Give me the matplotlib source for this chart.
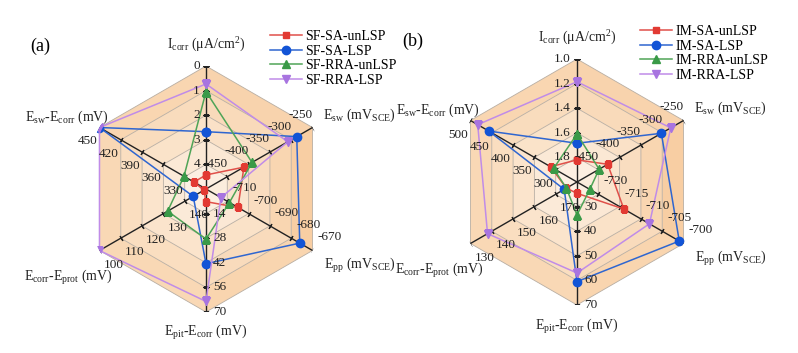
import numpy as np
import matplotlib
matplotlib.use('Agg')
import matplotlib.pyplot as plt

plt.rcParams['font.family'] = ['Liberation Serif', 'DejaVu Serif']
plt.rcParams['mathtext.fontset'] = 'custom'
plt.rcParams['mathtext.rm'] = 'Liberation Serif'
plt.rcParams['mathtext.it'] = 'Liberation Serif:italic'

# ---------------- data ----------------
axis_titles = [r'I$_{\rm corr}$ (μA/cm$^{2}$)', r'E$_{\rm sw}$ (mV$_{\rm SCE}$)',
               r'E$_{\rm pp}$ (mV$_{\rm SCE}$)', r'E$_{\rm pit}$-E$_{\rm corr}$ (mV)',
               r'E$_{\rm corr}$-E$_{\rm prot}$ (mV)', r'E$_{\rm sw}$-E$_{\rm corr}$ (mV)']

# panel (a): value at centre, and tick values from centre outward
a_center = [5, -500, -720, 0, 150, 300]
a_ticks = [[4, 3, 2, 1, 0],
           [-450, -400, -350, -300, -250],
           [-710, -700, -690, -680, -670],
           [14, 28, 42, 56, 70],
           [140, 130, 120, 110, 100],
           [330, 360, 390, 420, 450]]
a_tick_labels = [[str(v) for v in t] for t in a_ticks]
a_names = ['SF-SA-unLSP', 'SF-SA-LSP', 'SF-RRA-unLSP', 'SF-RRA-LSP']
a_sf_sa_unlsp = [4.43, -411, -705, 7.2, 149, 317]
a_sf_sa_lsp = [2.67, -287, -676, 42.5, 144, 450]
a_sf_rra_unlsp = [1.04, -392, -709, 28.5, 132, 331]
a_sf_rra_lsp = [0.73, -308, -713, 64, 100, 450]

# panel (b)
b_center = [2.0, -500, -725, 20, 180, 250]
b_ticks = [[1.8, 1.6, 1.4, 1.2, 1.0],
           [-450, -400, -350, -300, -250],
           [-720, -715, -710, -705, -700],
           [30, 40, 50, 60, 70],
           [170, 160, 150, 140, 130],
           [300, 350, 400, 450, 500]]
b_tick_labels = [['1.8', '1.6', '1.4', '1.2', '1.0']] + [[str(v) for v in t] for t in b_ticks[1:]]
b_names = ['IM-SA-unLSP', 'IM-SA-LSP', 'IM-RRA-unLSP', 'IM-RRA-LSP']
b_im_sa_unlsp = [1.82, -428, -714, 24.6, 175, 312]
b_im_sa_lsp = [1.685, -302, -701, 60.5, 174, 457]
b_im_rra_unlsp = [1.61, -448, -722, 33.4, 175, 305]
b_im_rra_lsp = [1.185, -280, -708, 57, 138, 483]

# ---------------- style ----------------
line_colors = ['#e0504a', '#2f66d0', '#4fa457', '#c08ce8']
marker_colors = ['#e23a33', '#1254d6', '#3a9a48', '#a874e0']
markers = ['s', 'o', '^', 'v']
msizes = [5, 6, 5.5, 5.5]

W, H = 798, 353
R = 123
fig = plt.figure(figsize=(W / 100, H / 100), dpi=100)

theta = np.deg2rad([0, 60, 120, 180, 240, 300])
screen_ang = [90 - d for d in [0, 60, 120, 180, 240, 300]]

lab_off = [(-6, 0, 'right', 'center'), (-12, 13, 'center', 'center'),
           (17, 13, 'center', 'center'), (7, 0, 'left', 'center'),
           (14, -14, 'center', 'center'), (-12, -14, 'center', 'center')]
title_off = [(0, 21), (47, 12), (47, -15), (0, -21), (-31, -27), (-33, 10)]

c_in = np.array([252, 242, 231]) / 255
c_out = np.array([248, 208, 166]) / 255
sector_fac = [1.0, 1.12, 0.97, 0.9, 0.9, 0.95]


def norm(vals, center, ticks):
    outer = [t[-1] for t in ticks]
    return [(v - c) / (o - c) for v, c, o in zip(vals, center, outer)]


def panel(cx, cy, center, ticks, tick_labels, series, names, leg_xy):
    ax = fig.add_axes([(cx - R) / W, (H - cy - R) / H, 2 * R / W, 2 * R / H],
                      projection='polar')
    ax.set_theta_zero_location('N')
    ax.set_theta_direction(-1)
    ax.set_ylim(0, 1)
    ax.set_axis_off()
    levels = np.linspace(0, 1, 6)
    # shaded background
    for j in range(6):
        t0, t1 = theta[j], theta[(j + 1) % 6]
        for k in range(5):
            tt = (k + 0.5) / 5
            c = c_in + (c_out - c_in) * tt
            c = 1 - (1 - c) * sector_fac[j]
            c = np.clip(c, 0, 1)
            ax.fill([t0, t1, t1, t0], [levels[k], levels[k], levels[k + 1], levels[k + 1]],
                    color=c, lw=0, zorder=0)
    # grid rings
    th_c = np.append(theta, theta[0])
    for lv in levels[1:]:
        ax.plot(th_c, [lv] * 7, color='#b8aea3', lw=0.6, zorder=1)
    # spokes, ticks, labels, titles
    for i in range(6):
        ax.plot([theta[i], theta[i]], [0, 1], color='#222222', lw=1.0, zorder=2)
        rads = [(t - center[i]) / (ticks[i][-1] - center[i]) for t in ticks[i]]
        ax.plot([theta[i]] * 5, rads, ls='none', marker=(2, 2, screen_ang[i]),
                ms=4, mew=0.9, color='#222222', zorder=2)
        dx, dy, ha, va = lab_off[i]
        for r, s in zip(rads, tick_labels[i]):
            ax.annotate(s, (theta[i], r), xytext=(dx, dy), textcoords='offset pixels',
                        ha=ha, va=va, fontsize=9.5, color='#222222', zorder=6)
        tx, ty = title_off[i]
        ax.annotate(axis_titles[i], (theta[i], 1), xytext=(tx, ty),
                    textcoords='offset pixels', ha='center', va='center',
                    fontsize=10, color='#222222', annotation_clip=False)
    # data series
    handles = []
    for s, name, lc, mc, mk, ms in zip(series, names, line_colors, marker_colors,
                                       markers, msizes):
        r = norm(s, center, ticks)
        h, = ax.plot(np.append(theta, theta[0]), r + [r[0]], color=lc, lw=1.1,
                     marker=mk, ms=ms, mfc=mc, mec=mc, zorder=3, label=name)
        handles.append(h)
    fig.legend(handles=handles, loc='upper left',
               bbox_to_anchor=(leg_xy[0] / W, 1 - leg_xy[1] / H),
               frameon=False, fontsize=10, handlelength=2.3, handletextpad=0.25,
               labelspacing=0.12, borderpad=0, borderaxespad=0)
    return ax


panel(206, 189, a_center, a_ticks, a_tick_labels,
      [a_sf_sa_unlsp, a_sf_sa_lsp, a_sf_rra_unlsp, a_sf_rra_lsp], a_names, (270, 30))
panel(577, 182, b_center, b_ticks, b_tick_labels,
      [b_im_sa_unlsp, b_im_sa_lsp, b_im_rra_unlsp, b_im_rra_lsp], b_names, (640, 25))

fig.text(40 / W, 1 - 46 / H, '(a)', fontsize=13, ha='center', va='center')
fig.text(413 / W, 1 - 41 / H, '(b)', fontsize=13, ha='center', va='center')

fig.savefig('out.png', dpi=100, facecolor='white')
